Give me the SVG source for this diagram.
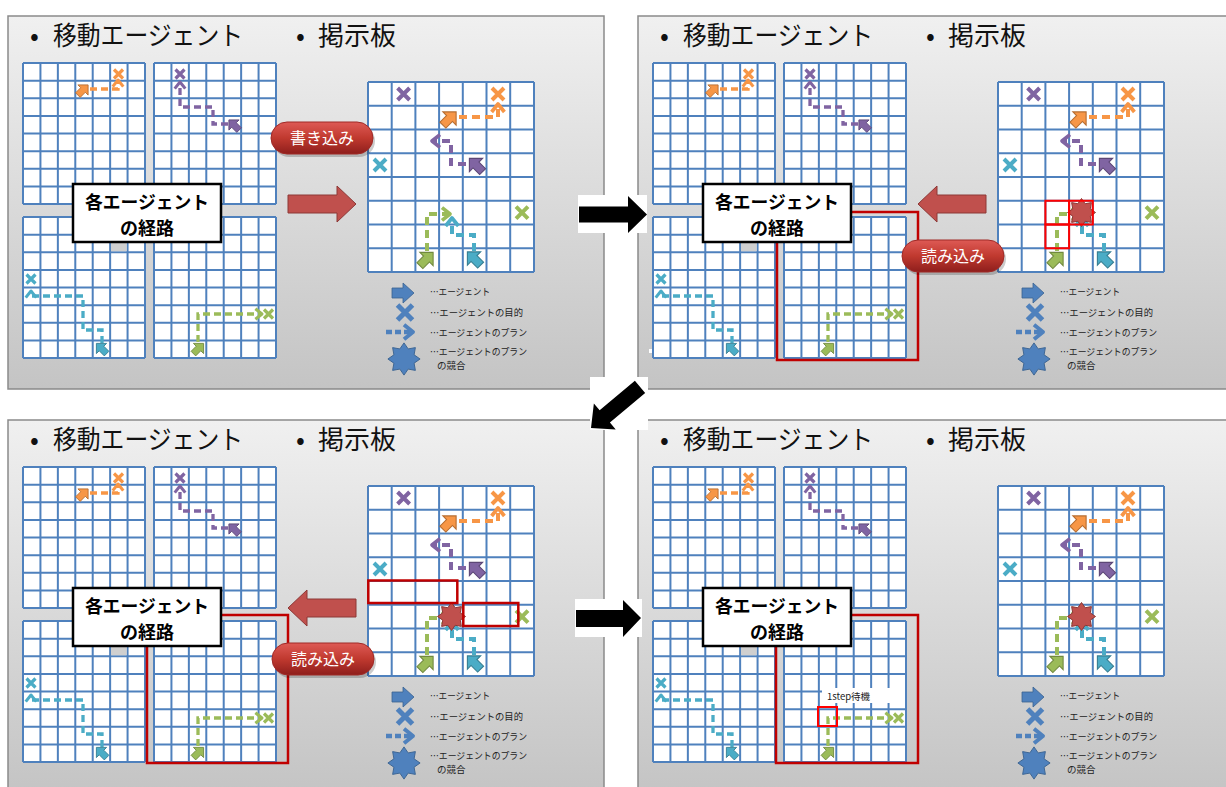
<svg xmlns="http://www.w3.org/2000/svg" width="1226" height="787" viewBox="0 0 1226 787">
<style>
.panel{fill:url(#pg);stroke:#8a8a8a;stroke-width:1.5}
.title{font-family:"Noto Sans CJK JP","Noto Sans CJK SC",sans-serif;font-size:26px;fill:#111}
.boxt{font-family:"Noto Sans CJK JP","Noto Sans CJK SC",sans-serif;font-size:18px;font-weight:bold;fill:#000;text-anchor:middle}
.leg{font-family:"Noto Sans CJK JP","Noto Sans CJK SC",sans-serif;font-size:9.5px;fill:#222}
.pillt{font-family:"Noto Sans CJK JP","Noto Sans CJK SC",sans-serif;font-size:16px;fill:#fff;text-anchor:middle}
.small{font-family:"Noto Sans CJK JP","Noto Sans CJK SC",sans-serif;font-size:9.5px;fill:#222}
.grid{fill:none;stroke:#4f81bd;stroke-width:2}
.bd{fill:none;stroke-width:4;stroke-dasharray:8 5}
.md{fill:none;stroke-width:3.3;stroke-dasharray:7 4}
.box{fill:#fff;stroke:#000;stroke-width:2.5}
.redarrow{fill:#c0504d;stroke:#8c3836;stroke-width:1}
.redrect{fill:none;stroke:#c00000;stroke-width:2.5}
.redsq{fill:none;stroke:#ff0000;stroke-width:2}
.pill{fill:url(#rg);stroke:#a02a27;stroke-width:1}
.blk{fill:#000}
</style>
<defs>
<linearGradient id="pg" x1="0" y1="0" x2="0" y2="1"><stop offset="0" stop-color="#f0f0f0"/><stop offset="1" stop-color="#c4c4c4"/></linearGradient>
<linearGradient id="rg" x1="0" y1="0" x2="0" y2="1"><stop offset="0" stop-color="#de5a55"/><stop offset="0.5" stop-color="#c0392f"/><stop offset="1" stop-color="#8e1e1c"/></linearGradient>
<marker id="mo" viewBox="0 0 10 10" refX="7" refY="5" markerWidth="4" markerHeight="4" orient="auto" markerUnits="strokeWidth"><path d="M2,1L7,5L2,9" fill="none" stroke="#f79646" stroke-width="2.3" stroke-linejoin="round"/></marker>
<marker id="mp" viewBox="0 0 10 10" refX="7" refY="5" markerWidth="4" markerHeight="4" orient="auto" markerUnits="strokeWidth"><path d="M2,1L7,5L2,9" fill="none" stroke="#8064a2" stroke-width="2.3" stroke-linejoin="round"/></marker>
<marker id="mc" viewBox="0 0 10 10" refX="7" refY="5" markerWidth="4" markerHeight="4" orient="auto" markerUnits="strokeWidth"><path d="M2,1L7,5L2,9" fill="none" stroke="#4bacc6" stroke-width="2.3" stroke-linejoin="round"/></marker>
<marker id="mg2" viewBox="0 0 10 10" refX="7" refY="5" markerWidth="4" markerHeight="4" orient="auto" markerUnits="strokeWidth"><path d="M2,1L7,5L2,9" fill="none" stroke="#9bbb59" stroke-width="2.3" stroke-linejoin="round"/></marker>
<marker id="mb" viewBox="0 0 10 10" refX="7" refY="5" markerWidth="4" markerHeight="4" orient="auto" markerUnits="strokeWidth"><path d="M2,1L7,5L2,9" fill="none" stroke="#4f81bd" stroke-width="2.2" stroke-linejoin="round"/></marker>
<path id="xb" d="M-6,-6L6,6M6,-6L-6,6" stroke-width="4"/>
<path id="xs" d="M-4.5,-4.5L4.5,4.5M4.5,-4.5L-4.5,4.5" stroke-width="3.2"/>
<path id="ag" d="M0,-8.5L8.5,0H3.8V8.5H-3.8V0H-8.5Z" stroke-width="1"/>
<path id="star" d="M0,-14L3.64,-8.78L9.9,-9.9L8.78,-3.64L14,0L8.78,3.64L9.9,9.9L3.64,8.78L0,14L-3.64,8.78L-9.9,9.9L-8.78,3.64L-14,0L-8.78,-3.64L-9.9,-9.9L-3.64,-8.78Z"/>
<g id="mgrid"><rect width="122" height="141" fill="#fff"/><path class="grid" d="M0,0V141M17.43,0V141M34.86,0V141M52.29,0V141M69.71,0V141M87.14,0V141M104.57,0V141M122,0V141M0,0H122M0,17.63H122M0,35.25H122M0,52.88H122M0,70.5H122M0,88.13H122M0,105.75H122M0,123.38H122M0,141H122"/></g>
<g id="minis">
<use href="#mgrid" x="23" y="63"/><use href="#mgrid" x="154" y="63"/><use href="#mgrid" x="23" y="217"/><use href="#mgrid" x="154" y="217"/>
<rect x="111" y="242" width="15.6" height="9.2" fill="#cfcfcf"/>
<path class="md" d="M90,89H118V80" stroke="#f79646" marker-end="url(#mo)"/>
<path class="md" d="M228,124H213V107H180V82" stroke="#8064a2" marker-end="url(#mp)"/>
<path class="md" d="M102,343V330H83V296H31V291" stroke="#4bacc6" marker-end="url(#mc)"/>
<path class="md" d="M198,342V314H262" stroke="#9bbb59" marker-end="url(#mg2)"/>
<use href="#xs" x="118.5" y="74" stroke="#f79646"/>
<use href="#xs" x="180" y="74" stroke="#8064a2"/>
<use href="#xs" x="31" y="279" stroke="#4bacc6"/>
<use href="#xs" x="268.5" y="314" stroke="#9bbb59"/>
<use href="#ag" transform="translate(83,90) rotate(45) scale(0.85)" fill="#f79646" stroke="#b66d31"/>
<use href="#ag" transform="translate(234,125) rotate(-45) scale(0.85)" fill="#8064a2" stroke="#5c4776"/>
<use href="#ag" transform="translate(101.5,348.5) rotate(-45) scale(0.85)" fill="#4bacc6" stroke="#357d91"/>
<use href="#ag" transform="translate(198.5,348.5) rotate(45) scale(0.85)" fill="#9bbb59" stroke="#71893f"/>
</g>
<g id="board">
<rect x="368" y="82" width="166" height="190" fill="#fff"/>
<path class="grid" stroke-width="2.2" d="M368,82V272M391.7,82V272M415.4,82V272M439.1,82V272M462.8,82V272M486.5,82V272M510.2,82V272M534,82V272M368,82H534M368,105.75H534M368,129.5H534M368,153.25H534M368,177H534M368,200.75H534M368,224.5H534M368,248.25H534M368,272H534"/>
<path class="bd" d="M459,117H498V104" stroke="#f79646" marker-end="url(#mo)"/>
<path class="bd" d="M466,164H451V141H432" stroke="#8064a2" marker-end="url(#mp)"/>
<path class="bd" d="M474,251V235H452V218" stroke="#4bacc6" marker-end="url(#mc)"/>
<path class="bd" d="M427,251V214H450" stroke="#9bbb59" marker-end="url(#mg2)"/>
<use href="#xb" x="403.6" y="94" stroke="#8064a2"/>
<use href="#xb" x="498" y="94" stroke="#f79646"/>
<use href="#xb" x="380" y="165" stroke="#4bacc6"/>
<use href="#xb" x="522" y="212.6" stroke="#9bbb59"/>
<use href="#ag" transform="translate(449.5,118.5) rotate(45) scale(1.1)" fill="#f79646" stroke="#b66d31"/>
<use href="#ag" transform="translate(476,165) rotate(-45) scale(1.1)" fill="#8064a2" stroke="#5c4776"/>
<use href="#ag" transform="translate(474,258.5) rotate(-45) scale(1.1)" fill="#4bacc6" stroke="#357d91"/>
<use href="#ag" transform="translate(426.5,259) rotate(45) scale(1.1)" fill="#9bbb59" stroke="#71893f"/>
</g>
<g id="legicons">
<path d="M392,288H403V283L414,293L403,303V298H392Z" fill="#4f81bd" stroke="#3a6290" stroke-width="0.8"/>
<use href="#xb" transform="translate(405,312.5) scale(1.25)" stroke="#4f81bd"/>
<path d="M386,332H413" fill="none" stroke="#4f81bd" stroke-width="4.5" stroke-dasharray="6 3" marker-end="url(#mb)"/>
<use href="#star" transform="translate(404,359) scale(1.15)" fill="#4f81bd" stroke="#3a6290" stroke-width="0.8"/>
</g>
</defs>
<rect width="1226" height="787" fill="#fff"/>

<g id="panel-tl">
<rect class="panel" x="8" y="16" width="596" height="373"/>
<g id="tl-title"><text class="title" y="45"><tspan x="30">•</tspan><tspan x="53" textLength="190" lengthAdjust="spacingAndGlyphs">移動エージェント</tspan></text><text class="title" y="45"><tspan x="296">•</tspan><tspan x="318">掲示板</tspan></text></g>
<g id="tl-agents"><use href="#minis"/></g>
<g id="tl-box"><rect class="box" x="73" y="184" width="148" height="58"/><text class="boxt" x="147" y="209" textLength="124" lengthAdjust="spacingAndGlyphs">各エージェント</text><text class="boxt" x="147" y="235">の経路</text></g>
<g id="tl-board"><use href="#board"/></g>
<g id="tl-legend"><use href="#legicons"/>
<text class="leg" x="430" y="295" textLength="60" lengthAdjust="spacingAndGlyphs">…エージェント</text>
<text class="leg" x="430" y="316" textLength="93" lengthAdjust="spacingAndGlyphs">…エージェントの目的</text>
<text class="leg" x="430" y="336" textLength="97" lengthAdjust="spacingAndGlyphs">…エージェントのプラン</text>
<text class="leg" x="430" y="355" textLength="97" lengthAdjust="spacingAndGlyphs">…エージェントのプラン</text>
<text class="leg" x="437" y="369">の競合</text></g>
<g id="tl-pill"><rect x="273" y="125" width="102" height="32" rx="16" fill="#000" opacity="0.2"/><rect class="pill" x="271" y="122" width="102" height="32" rx="16"/><text class="pillt" x="322" y="144">書き込み</text></g>
<g id="tl-arrow"><path class="redarrow" d="M288,195H337V186L356,204L337,222V213H288Z"/></g>
</g>

<g id="panel-tr" transform="translate(630,0)">
<rect class="panel" x="8" y="16" width="596" height="373"/>
<rect x="19" y="349" width="4" height="4" fill="#fff"/>
<g id="tr-title"><text class="title" y="45"><tspan x="30">•</tspan><tspan x="53" textLength="190" lengthAdjust="spacingAndGlyphs">移動エージェント</tspan></text><text class="title" y="45"><tspan x="296">•</tspan><tspan x="318">掲示板</tspan></text></g>
<g id="tr-agents"><use href="#minis"/><rect class="redrect" x="147" y="212" width="141" height="148"/></g>
<g id="tr-box"><rect class="box" x="73" y="184" width="148" height="58"/><text class="boxt" x="147" y="209" textLength="124" lengthAdjust="spacingAndGlyphs">各エージェント</text><text class="boxt" x="147" y="235">の経路</text></g>
<g id="tr-board"><use href="#board"/>
<use href="#star" x="451.5" y="212.5" fill="#c0504d" stroke="#8c3836" stroke-width="1"/>
<rect class="redsq" x="415.4" y="200.75" width="23.7" height="23.75"/>
<rect class="redsq" x="439.1" y="200.75" width="23.7" height="23.75"/>
<rect class="redsq" x="415.4" y="224.5" width="23.7" height="23.75"/></g>
<g id="tr-legend"><use href="#legicons"/>
<text class="leg" x="430" y="295" textLength="60" lengthAdjust="spacingAndGlyphs">…エージェント</text>
<text class="leg" x="430" y="316" textLength="93" lengthAdjust="spacingAndGlyphs">…エージェントの目的</text>
<text class="leg" x="430" y="336" textLength="97" lengthAdjust="spacingAndGlyphs">…エージェントのプラン</text>
<text class="leg" x="430" y="355" textLength="97" lengthAdjust="spacingAndGlyphs">…エージェントのプラン</text>
<text class="leg" x="437" y="369">の競合</text></g>
<g id="tr-arrow"><path class="redarrow" d="M356,195H307V186L288,204L307,222V213H356Z"/></g>
<g id="tr-pill"><rect x="274" y="243" width="102" height="32" rx="16" fill="#000" opacity="0.2"/><rect class="pill" x="272" y="240" width="102" height="32" rx="16"/><text class="pillt" x="323" y="262">読み込み</text></g>
</g>

<g id="panel-bl" transform="translate(0,404)">
<rect class="panel" x="8" y="16" width="596" height="373"/>
<g id="bl-title"><text class="title" y="45"><tspan x="30">•</tspan><tspan x="53" textLength="190" lengthAdjust="spacingAndGlyphs">移動エージェント</tspan></text><text class="title" y="45"><tspan x="296">•</tspan><tspan x="318">掲示板</tspan></text></g>
<g id="bl-agents"><use href="#minis"/><rect class="redrect" x="147" y="211" width="141" height="148"/></g>
<g id="bl-box"><rect class="box" x="73" y="184" width="148" height="58"/><text class="boxt" x="147" y="209" textLength="124" lengthAdjust="spacingAndGlyphs">各エージェント</text><text class="boxt" x="147" y="235">の経路</text></g>
<g id="bl-board"><use href="#board"/>
<use href="#star" x="451.5" y="212.5" fill="#c0504d" stroke="#8c3836" stroke-width="1"/>
<rect class="redrect" x="368.3" y="176.5" width="89" height="22.5"/>
<rect class="redrect" x="463.3" y="199" width="55" height="23"/></g>
<g id="bl-legend"><use href="#legicons"/>
<text class="leg" x="430" y="295" textLength="60" lengthAdjust="spacingAndGlyphs">…エージェント</text>
<text class="leg" x="430" y="316" textLength="93" lengthAdjust="spacingAndGlyphs">…エージェントの目的</text>
<text class="leg" x="430" y="336" textLength="97" lengthAdjust="spacingAndGlyphs">…エージェントのプラン</text>
<text class="leg" x="430" y="355" textLength="97" lengthAdjust="spacingAndGlyphs">…エージェントのプラン</text>
<text class="leg" x="437" y="369">の競合</text></g>
<g id="bl-arrow"><path class="redarrow" d="M356,195H307V186L288,204L307,222V213H356Z"/></g>
<g id="bl-pill"><rect x="274" y="242" width="102" height="32" rx="16" fill="#000" opacity="0.2"/><rect class="pill" x="272" y="239" width="102" height="32" rx="16"/><text class="pillt" x="323" y="261">読み込み</text></g>
</g>

<g id="panel-br" transform="translate(630,404)">
<rect class="panel" x="8" y="16" width="596" height="373"/>
<g id="br-title"><text class="title" y="45"><tspan x="30">•</tspan><tspan x="53" textLength="190" lengthAdjust="spacingAndGlyphs">移動エージェント</tspan></text><text class="title" y="45"><tspan x="296">•</tspan><tspan x="318">掲示板</tspan></text></g>
<g id="br-agents"><use href="#minis"/><rect class="redrect" x="146" y="211" width="142" height="148"/>
<rect x="192" y="284" width="83" height="15" fill="#fff"/><text class="small" x="197" y="296">1step待機</text>
<rect class="redsq" x="188" y="303" width="19" height="19"/></g>
<g id="br-box"><rect class="box" x="73" y="184" width="148" height="58"/><text class="boxt" x="147" y="209" textLength="124" lengthAdjust="spacingAndGlyphs">各エージェント</text><text class="boxt" x="147" y="235">の経路</text></g>
<g id="br-board"><use href="#board"/>
<use href="#star" x="451.5" y="212.5" fill="#c0504d" stroke="#8c3836" stroke-width="1"/></g>
<g id="br-legend"><use href="#legicons"/>
<text class="leg" x="430" y="295" textLength="60" lengthAdjust="spacingAndGlyphs">…エージェント</text>
<text class="leg" x="430" y="316" textLength="93" lengthAdjust="spacingAndGlyphs">…エージェントの目的</text>
<text class="leg" x="430" y="336" textLength="97" lengthAdjust="spacingAndGlyphs">…エージェントのプラン</text>
<text class="leg" x="430" y="355" textLength="97" lengthAdjust="spacingAndGlyphs">…エージェントのプラン</text>
<text class="leg" x="437" y="369">の競合</text></g>
</g>

<g id="connectors">
<rect x="578" y="195" width="69" height="38" fill="#fff"/>
<path class="blk" d="M579,206.5H628V196L647,214.5L628,233V222.5H579Z"/>
<rect x="590" y="377" width="58" height="53" fill="#fff"/>
<path class="blk" transform="translate(591,428) rotate(140)" d="M-64,-8H-18V-17L0,0L-18,17V8H-64Z"/>
<rect x="575" y="599" width="67" height="38" fill="#fff"/>
<path class="blk" d="M576,610H623V600L641,618L623,637V627H576Z"/>
</g>
</svg>
